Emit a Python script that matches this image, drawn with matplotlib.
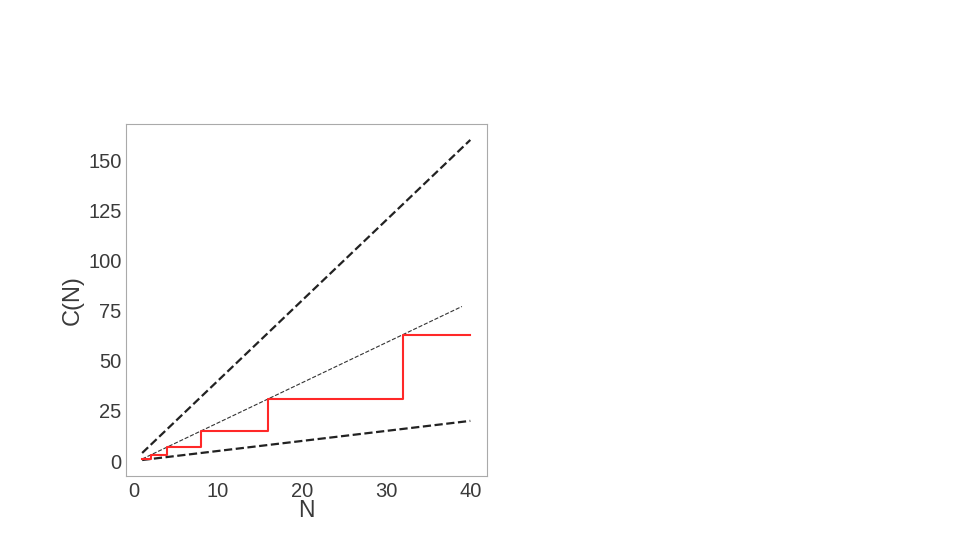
import numpy as np
import matplotlib.pyplot as plt

plt.rcParams['font.family'] = ['Liberation Sans', 'DejaVu Sans']

# datos
N_lineas = [1, 40]
cota_sup = [4, 160]        # 4N
cota_inf = [0.5, 20]       # N/2
N_media = [1, 39]
media = [1, 77]            # 2N-1
N_escalon = [1, 2, 4, 8, 16, 32, 40]
C_escalon = [1, 3, 7, 15, 31, 63, 63]

fig = plt.figure(figsize=(9.6, 5.4), dpi=100)
ax = fig.add_axes([0.131, 0.1185, 0.376, 0.652])

ax.plot(N_lineas, cota_sup, '--', color='#222222', lw=1.6)
ax.plot(N_media, media, '--', color='#333333', lw=0.8)
ax.plot(N_lineas, cota_inf, '--', color='#222222', lw=1.6)
ax.step(N_escalon, C_escalon, where='post', color='#ff2828', lw=1.5)

ax.set_xticks([0, 10, 20, 30, 40])
ax.set_yticks([0, 25, 50, 75, 100, 125, 150])
ax.tick_params(labelsize=14.5, colors='#3a3a3a', length=0)
ax.tick_params(axis='x', pad=4)
ax.tick_params(axis='y', pad=3)
for s in ax.spines.values():
    s.set_color('#aaaaaa')
ax.set_xlabel('N', fontsize=16.5, color='#3a3a3a', labelpad=-1)
ax.set_ylabel('C(N)', fontsize=17, color='#3a3a3a', labelpad=3)

fig.savefig('out.png', dpi=100)
